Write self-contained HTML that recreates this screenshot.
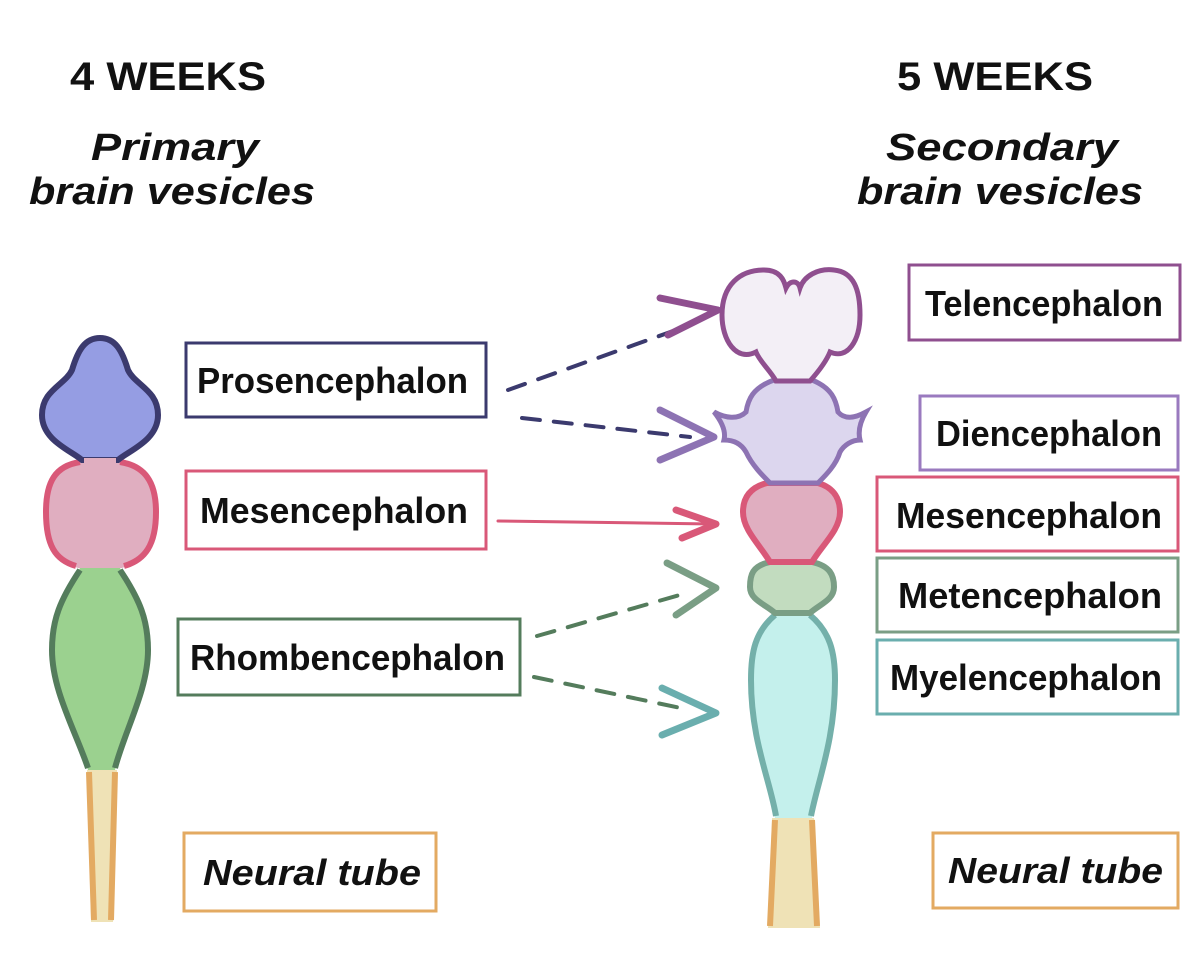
<!DOCTYPE html>
<html><head><meta charset="utf-8"><style>
html,body{margin:0;padding:0;background:#fff;width:1198px;height:978px;overflow:hidden}
svg text{font-family:"Liberation Sans",sans-serif;font-weight:bold;fill:#111}
.it{font-style:italic}
</style></head><body>
<svg width="1198" height="978" viewBox="0 0 1198 978" xmlns="http://www.w3.org/2000/svg">
<!-- headers -->
<text x="168" y="90" font-size="40" text-anchor="middle" textLength="196" lengthAdjust="spacingAndGlyphs">4 WEEKS</text>
<text x="175" y="160" font-size="38" class="it" text-anchor="middle" textLength="168" lengthAdjust="spacingAndGlyphs">Primary</text>
<text x="172" y="204" font-size="38" class="it" text-anchor="middle" textLength="286" lengthAdjust="spacingAndGlyphs">brain vesicles</text>
<text x="995" y="90" font-size="40" text-anchor="middle" textLength="196" lengthAdjust="spacingAndGlyphs">5 WEEKS</text>
<text x="1002" y="160" font-size="38" class="it" text-anchor="middle" textLength="232" lengthAdjust="spacingAndGlyphs">Secondary</text>
<text x="1000" y="204" font-size="38" class="it" text-anchor="middle" textLength="286" lengthAdjust="spacingAndGlyphs">brain vesicles</text>

<!-- left brain -->
<path d="M87 770 L117 770 L113 922 L91 922 Z" fill="#efe2b6"/>
<path d="M89 772 L94 920 M115 772 L111 920" stroke="#e3aa62" stroke-width="6" fill="none"/>
<path d="M80 568 C60 600 50 620 50 650 C50 690 75 730 88 770 L115 770 C125 730 150 690 150 650 C150 620 140 600 120 568 Z" fill="#9bd18f"/>
<path d="M80 570 C60 600 52 620 52 650 C52 690 75 730 88 768 M120 570 C140 600 148 620 148 650 C148 690 125 730 115 768" stroke="#547c5c" stroke-width="6" fill="none"/>
<path d="M82 460 C55 462 46 480 46 512 C46 545 55 560 78 568 L122 568 C145 560 156 545 156 512 C156 480 145 462 118 460 Z" fill="#e0aec0"/>
<path d="M80 462 C55 466 46 482 46 512 C46 545 55 560 76 566 M120 462 C145 466 156 482 156 512 C156 545 145 560 124 566" stroke="#d95878" stroke-width="6" fill="none"/>
<path d="M82 460 C70 450 42 440 42 415 C42 390 65 385 72 370 C78 350 85 338 100 338 C115 338 122 350 128 370 C135 385 158 390 158 415 C158 440 130 450 118 460 Z" fill="#959de3" stroke="#3b3a6e" stroke-width="6"/>
<path d="M84 461 L116 461" stroke="#e0aec0" stroke-width="6"/>

<!-- right brain -->
<path d="M772 818 L814 818 L820 928 L768 928 Z" fill="#efe2b6"/>
<path d="M775 820 L770 926 M812 820 L817 926" stroke="#e3aa62" stroke-width="6" fill="none"/>
<path d="M775 613 C755 630 750 650 750 680 C750 740 770 780 775 818 L812 818 C818 780 836 740 836 680 C836 650 830 630 810 613 Z" fill="#c4f0ec"/>
<path d="M775 615 C755 632 751 652 751 680 C751 740 770 780 776 816 M810 615 C830 632 835 652 835 680 C835 740 818 780 811 816" stroke="#74b0aa" stroke-width="6" fill="none"/>
<path d="M770 562 C752 566 750 575 750 587 C750 600 765 604 775 613 L810 613 C820 604 834 600 834 587 C834 575 830 566 812 562 Z" fill="#c2dcbf" stroke="#7a9e85" stroke-width="6"/>
<path d="M767 483 C748 488 743 500 743 512 C743 530 760 545 770 562 L812 562 C822 545 840 530 840 512 C840 500 835 488 818 483 Z" fill="#e0aec0" stroke="#d95878" stroke-width="6"/>
<path d="M774 380 C752 388 748 400 746 412 C738 420 725 418 714 412 C722 422 726 432 724 440 C735 440 742 445 746 452 C752 465 762 475 770 483 L818 483 C826 475 836 465 840 452 C844 445 852 440 860 440 C858 432 860 422 866 412 C855 418 845 420 838 412 C836 400 832 388 812 380 Z" fill="#dcd6ee" stroke="#8d73b3" stroke-width="5"/>
<path d="M776 381 C770 370 760 362 756 352 C736 362 722 340 722 315 C722 285 740 270 764 270 C780 270 784 280 786 288 C790 280 798 280 800 288 C804 276 818 268 834 270 C854 272 860 290 860 315 C860 340 848 360 830 352 C826 362 818 372 810 381 Z" fill="#f3eff6" stroke="#8f4f8f" stroke-width="5"/>

<!-- connectors -->
<g fill="none" stroke-width="4" stroke-linecap="round">
<path d="M508 390 L690 325" stroke="#3b3a6e" stroke-dasharray="18 14"/>
<path d="M522 418 L690 437" stroke="#3b3a6e" stroke-dasharray="18 14"/>
<path d="M537 636 L690 592" stroke="#547c5c" stroke-dasharray="18 14"/>
<path d="M534 677 L690 710" stroke="#547c5c" stroke-dasharray="18 14"/>
<path d="M498 521 L712 524" stroke="#d95878" stroke-width="3"/>
</g>
<g fill="none" stroke-width="7" stroke-linecap="round" stroke-linejoin="round">
<path d="M660 298 L718 310 L668 335" stroke="#8f4f8f"/>
<path d="M660 410 L714 437 L660 460" stroke="#8d73b3"/>
<path d="M676 510 L716 524 L682 538" stroke="#d95878"/>
<path d="M667 563 L716 588 L676 615" stroke="#7a9e85"/>
<path d="M662 688 L716 713 L662 735" stroke="#6aaeae"/>
</g>

<!-- label boxes -->
<g fill="#fff" stroke-width="3">
<rect x="186" y="343" width="300" height="74" stroke="#3b3a6e"/>
<rect x="186" y="471" width="300" height="78" stroke="#d95878"/>
<rect x="178" y="619" width="342" height="76" stroke="#547c5c"/>
<rect x="184" y="833" width="252" height="78" stroke="#e3aa62"/>
<rect x="909" y="265" width="271" height="75" stroke="#8f4f8f"/>
<rect x="920" y="396" width="258" height="74" stroke="#9a7abf"/>
<rect x="877" y="477" width="301" height="74" stroke="#d95878"/>
<rect x="877" y="558" width="301" height="74" stroke="#7a9e85"/>
<rect x="877" y="640" width="301" height="74" stroke="#6aaeae"/>
<rect x="933" y="833" width="245" height="75" stroke="#e3aa62"/>
</g>
<g font-size="36">
<text x="197" y="393" textLength="271" lengthAdjust="spacingAndGlyphs">Prosencephalon</text>
<text x="200" y="523" textLength="268" lengthAdjust="spacingAndGlyphs">Mesencephalon</text>
<text x="190" y="670" textLength="315" lengthAdjust="spacingAndGlyphs">Rhombencephalon</text>
<text x="203" y="885" class="it" textLength="218" lengthAdjust="spacingAndGlyphs">Neural tube</text>
<text x="925" y="316" textLength="238" lengthAdjust="spacingAndGlyphs">Telencephalon</text>
<text x="936" y="446" textLength="226" lengthAdjust="spacingAndGlyphs">Diencephalon</text>
<text x="896" y="528" textLength="266" lengthAdjust="spacingAndGlyphs">Mesencephalon</text>
<text x="898" y="608" textLength="264" lengthAdjust="spacingAndGlyphs">Metencephalon</text>
<text x="890" y="690" textLength="272" lengthAdjust="spacingAndGlyphs">Myelencephalon</text>
<text x="948" y="883" class="it" textLength="215" lengthAdjust="spacingAndGlyphs">Neural tube</text>
</g>
</svg>
</body></html>
